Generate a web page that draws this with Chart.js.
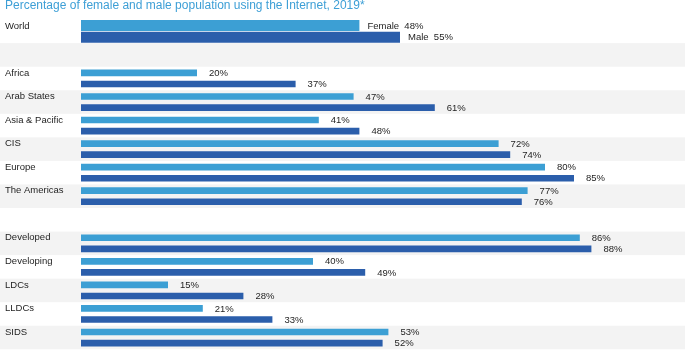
<!DOCTYPE html>
<html>
<head>
<meta charset="utf-8">
<script src="https://cdn.jsdelivr.net/npm/chart.js@4"></script>
<style>
  body { margin: 0; background: #fff; }
  #wrap { width: 685px; height: 358px; position: relative; }
</style>
</head>
<body>
<div id="wrap"><canvas id="chart"></canvas></div>
<script>
// Internet use by sex, 2019 (%)
const categories = ['World', '', 'Africa', 'Arab States', 'Asia & Pacific', 'CIS', 'Europe', 'The Americas',
    '', 'Developed', 'Developing', 'LDCs', 'LLDCs', 'SIDS'];
const female = [48, null, 20, 47, 41, 72, 80, 77, null, 86, 40, 15, 21, 53];
const male = [55, null, 37, 61, 48, 74, 85, 76, null, 88, 49, 28, 33, 52];
const titleText = 'Percentage of female and male population using the Internet, 2019*';

const FEMALE_COLOR = '#3c9fd4';
const MALE_COLOR = '#2b5eab';
const TEXT_COLOR = '#1e1e1e';
const FONT = "'Liberation Sans', Arial, sans-serif";

// World row gets its own datasets so its bars can be thicker; stacks keep two slots per row
const worldOnly = arr => arr.map((v, i) => (i === 0 ? v : null));
const restOnly = arr => arr.map((v, i) => (i === 0 ? null : v));

const bandsPlugin = {
    id: 'bands',
    beforeDraw(chart) {
        const { ctx, scales: { y } } = chart;
        const h = y.height / categories.length;
        ctx.save();
        ctx.fillStyle = '#f3f3f3';
        categories.forEach((c, i) => {
            if (i % 2 === 1) {
                const yc = y.getPixelForValue(i);
                ctx.fillRect(0, yc - h / 2, chart.width, h);
            }
        });
        ctx.restore();
    }
};

const valueLabels = {
    id: 'valueLabels',
    afterDatasetsDraw(chart) {
        const { ctx } = chart;
        ctx.save();
        ctx.fillStyle = TEXT_COLOR;
        ctx.font = '9.5px ' + FONT;
        ctx.textBaseline = 'middle';
        ctx.textAlign = 'left';
        chart.data.datasets.forEach((ds, di) => {
            const meta = chart.getDatasetMeta(di);
            meta.data.forEach((bar, i) => {
                const v = ds.data[i];
                if (v === null || v === undefined) return;
                const prefix = ds.world ? ds.label + '  ' : '';
                const gap = ds.world ? 8 : 12;
                ctx.fillText(prefix + v + '%', bar.x + gap, bar.y + 0.5);
            });
        });
        ctx.restore();
    }
};

const ctx = document.getElementById('chart').getContext('2d');
new Chart(ctx, {
    type: 'bar',
    data: {
        labels: categories,
        datasets: [
            { label: 'Female', data: worldOnly(female), backgroundColor: FEMALE_COLOR, stack: 'f', world: true,
              categoryPercentage: 1.0, barPercentage: 0.92 },
            { label: 'Male', data: worldOnly(male), backgroundColor: MALE_COLOR, stack: 'm', world: true,
              categoryPercentage: 1.0, barPercentage: 0.92 },
            { label: 'Female', data: restOnly(female), backgroundColor: FEMALE_COLOR, stack: 'f',
              categoryPercentage: 0.94, barPercentage: 0.6 },
            { label: 'Male', data: restOnly(male), backgroundColor: MALE_COLOR, stack: 'm',
              categoryPercentage: 0.94, barPercentage: 0.6 }
        ]
    },
    options: {
        indexAxis: 'y',
        responsive: true,
        maintainAspectRatio: false,
        animation: false,
        layout: { padding: { left: 5, right: 24, top: 0, bottom: 2 } },
        plugins: {
            legend: { display: false },
            tooltip: { enabled: false },
            title: {
                display: true,
                text: titleText,
                align: 'start',
                color: '#3d9fd6',
                font: { family: FONT, size: 12, weight: 'normal', lineHeight: 1.0 },
                padding: { top: 0, bottom: 7.6 }
            }
        },
        scales: {
            x: {
                display: false,
                min: 0,
                max: 100
            },
            y: {
                type: 'category',
                offset: true,
                grid: { display: false },
                border: { display: false },
                ticks: {
                    autoSkip: false,
                    crossAlign: 'far',
                    labelOffset: -5.5,
                    color: TEXT_COLOR,
                    font: { family: FONT, size: 9.5 }
                },
                afterFit(scale) { scale.width = 76; }
            }
        }
    },
    plugins: [bandsPlugin, valueLabels]
});
</script>
</body>
</html>
